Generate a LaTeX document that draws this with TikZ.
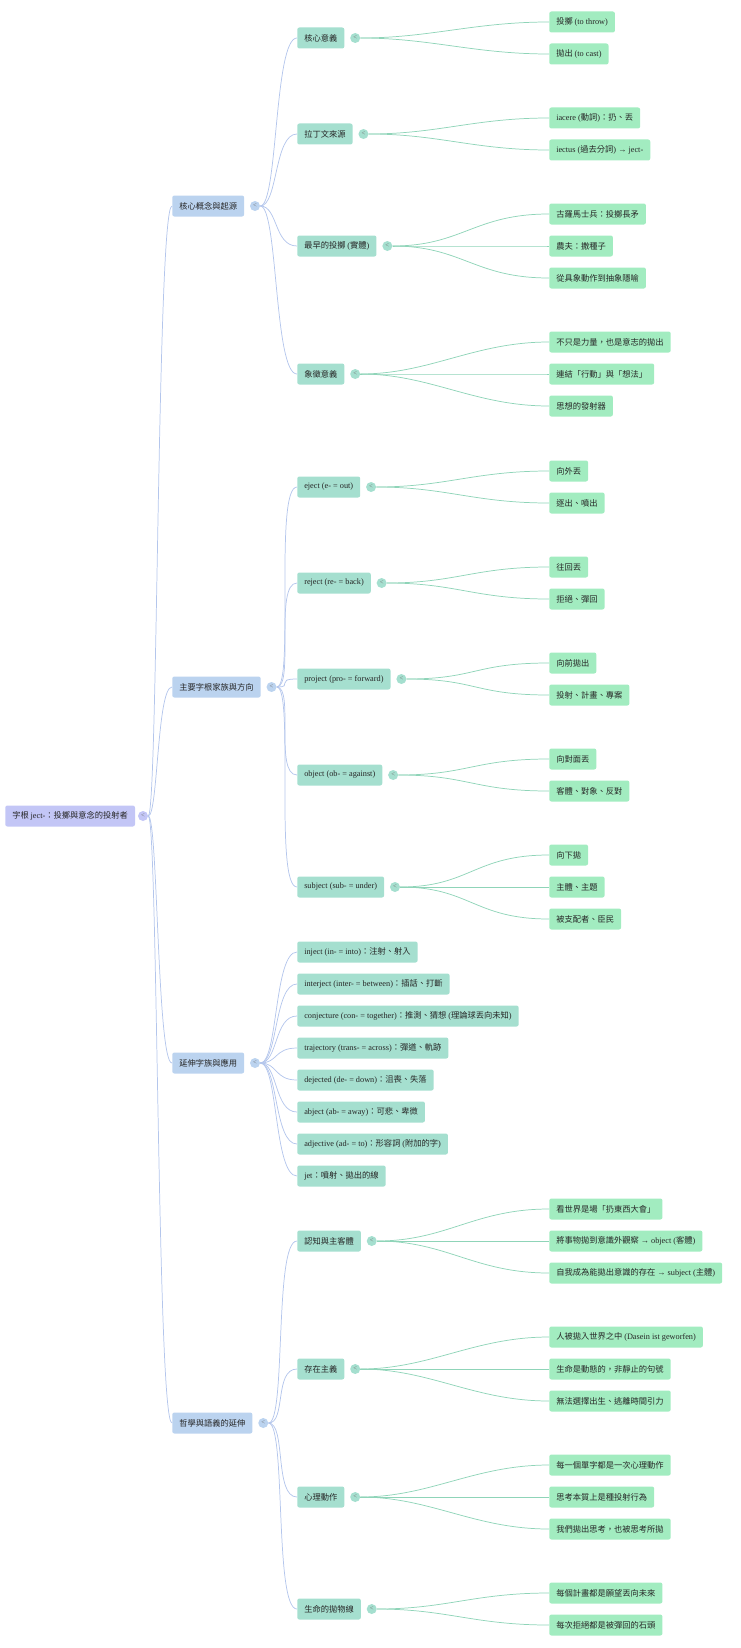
\documentclass[tikz,border=0pt]{standalone}
\usepackage{fontspec}
\usetikzlibrary{positioning}
\setmainfont{Liberation Serif}
\newfontfamily\cjkf{Noto Sans CJK TC}
\newfontfamily\latf{Liberation Serif}
\newcommand\E[1]{{\latf #1}}
\newcommand\mixfont{\cjkf\fontsize{6.2}{7}\selectfont}
\definecolor{rootc}{HTML}{C3C6F6}
\definecolor{lonec}{HTML}{BBD3EF}
\definecolor{ltwoc}{HTML}{A5DFCF}
\definecolor{leafc}{HTML}{A2ECC0}
\definecolor{blueln}{HTML}{B4C6EC}
\definecolor{greenln}{HTML}{8FD4B8}
\tikzset{
 box/.style={anchor=west,rounded corners=1.6pt,minimum height=15.75pt,inner xsep=5.25pt,inner ysep=0pt,font=\mixfont,text=black!85},
 root/.style={box,fill=rootc},
 lone/.style={box,fill=lonec},
 ltwo/.style={box,fill=ltwoc},
 leaf/.style={box,fill=leafc},
 dot/.style={circle,inner sep=0pt,minimum size=7.5pt,font=\latf\fontsize{5}{5}\selectfont,text=black!55},
 bl/.style={draw=blueln,line width=0.55pt},
 gl/.style={draw=greenln,line width=0.55pt},
}
\newcommand\con[4]{\draw[#1] (#2) .. controls +(#4,0) and +(-#4,0) .. (#3.west);}
\begin{document}
\begin{tikzpicture}[x=0.75pt,y=-0.75pt]
\useasboundingbox (0,0) rectangle (740,1648);
% root
\node[root] (r) at (5,816) {字根 \E{ject-}：投擲與意念的投射者};
\node[dot,fill=rootc] (r-c) at (143,816) {<};
% level 1
\node[lone] (a) at (172,206) {核心概念與起源};
\node[lone] (b) at (172,687) {主要字根家族與方向};
\node[lone] (c) at (172,1063) {延伸字族與應用};
\node[lone] (d) at (172,1423) {哲學與語義的延伸};
\foreach \n in {a,b,c,d}{\node[dot,fill=lonec,right=4pt of \n] (\n-c) {<};}
\foreach \n in {a,b,c,d}{\con{bl}{r-c}{\n}{15}}
% group a
\node[ltwo] (a1) at (297,38) {核心意義};
\node[ltwo] (a2) at (297,134) {拉丁文來源};
\node[ltwo] (a3) at (297,246) {最早的投擲 \E{(}實體\E{)}};
\node[ltwo] (a4) at (297,374) {象徵意義};
% group b
\node[ltwo] (b1) at (297,487) {\E{eject (e- = out)}};
\node[ltwo] (b2) at (297,583) {\E{reject (re- = back)}};
\node[ltwo] (b3) at (297,679) {\E{project (pro- = forward)}};
\node[ltwo] (b4) at (297,775) {\E{object (ob- = against)}};
\node[ltwo] (b5) at (297,887) {\E{subject (sub- = under)}};
% group c
\node[ltwo] (c1) at (297,952) {\E{inject (in- = into)}：注射、射入};
\node[ltwo] (c2) at (297,984) {\E{interject (inter- = between)}：插話、打斷};
\node[ltwo] (c3) at (297,1016) {\E{conjecture (con- = together)}：推測、猜想 \E{(}理論球丟向未知\E{)}};
\node[ltwo] (c4) at (297,1048) {\E{trajectory (trans- = across)}：彈道、軌跡};
\node[ltwo] (c5) at (297,1080) {\E{dejected (de- = down)}：沮喪、失落};
\node[ltwo] (c6) at (297,1112) {\E{abject (ab- = away)}：可悲、卑微};
\node[ltwo] (c7) at (297,1144) {\E{adjective (ad- = to)}：形容詞 \E{(}附加的字\E{)}};
\node[ltwo] (c8) at (297,1176) {\E{jet}：噴射、拋出的線};
% group d
\node[ltwo] (d1) at (297,1241) {認知與主客體};
\node[ltwo] (d2) at (297,1369) {存在主義};
\node[ltwo] (d3) at (297,1497) {心理動作};
\node[ltwo] (d4) at (297,1609) {生命的拋物線};
\foreach \n in {a1,a2,a3,a4,b1,b2,b3,b4,b5,d1,d2,d3,d4}{\node[dot,fill=ltwoc,right=4pt of \n] (\n-c) {<};}
\foreach \n in {a1,a2,a3,a4}{\con{bl}{a-c}{\n}{23}}
\foreach \n in {b1,b2,b3,b4,b5}{\con{bl}{b-c}{\n}{23}}
\foreach \n in {c1,c2,c3,c4,c5,c6,c7,c8}{\con{bl}{c-c}{\n}{23}}
\foreach \n in {d1,d2,d3,d4}{\con{bl}{d-c}{\n}{23}}
% leaves
\node[leaf] (a11) at (549,22) {投擲 \E{(to throw)}};
\node[leaf] (a12) at (549,54) {拋出 \E{(to cast)}};
\node[leaf] (a21) at (549,118) {\E{iacere (}動詞\E{)}：扔、丟};
\node[leaf] (a22) at (549,150) {\E{iectus (}過去分詞\E{) → ject-}};
\node[leaf] (a31) at (549,214) {古羅馬士兵：投擲長矛};
\node[leaf] (a32) at (549,246) {農夫：撒種子};
\node[leaf] (a33) at (549,278) {從具象動作到抽象隱喻};
\node[leaf] (a41) at (549,342) {不只是力量，也是意志的拋出};
\node[leaf] (a42) at (549,374) {連結「行動」與「想法」};
\node[leaf] (a43) at (549,406) {思想的發射器};
\node[leaf] (b11) at (549,471) {向外丟};
\node[leaf] (b12) at (549,503) {逐出、噴出};
\node[leaf] (b21) at (549,567) {往回丟};
\node[leaf] (b22) at (549,599) {拒絕、彈回};
\node[leaf] (b31) at (549,663) {向前拋出};
\node[leaf] (b32) at (549,695) {投射、計畫、專案};
\node[leaf] (b41) at (549,759) {向對面丟};
\node[leaf] (b42) at (549,791) {客體、對象、反對};
\node[leaf] (b51) at (549,855) {向下拋};
\node[leaf] (b52) at (549,887) {主體、主題};
\node[leaf] (b53) at (549,919) {被支配者、臣民};
\node[leaf] (d11) at (549,1209) {看世界是場「扔東西大會」};
\node[leaf] (d12) at (549,1241) {將事物拋到意識外觀察 \E{→ object (}客體\E{)}};
\node[leaf] (d13) at (549,1273) {自我成為能拋出意識的存在 \E{→ subject (}主體\E{)}};
\node[leaf] (d21) at (549,1337) {人被拋入世界之中 \E{(Dasein ist geworfen)}};
\node[leaf] (d22) at (549,1369) {生命是動態的，非靜止的句號};
\node[leaf] (d23) at (549,1401) {無法選擇出生、逃離時間引力};
\node[leaf] (d31) at (549,1465) {每一個單字都是一次心理動作};
\node[leaf] (d32) at (549,1497) {思考本質上是種投射行為};
\node[leaf] (d33) at (549,1529) {我們拋出思考，也被思考所拋};
\node[leaf] (d41) at (549,1593) {每個計畫都是願望丟向未來};
\node[leaf] (d42) at (549,1625) {每次拒絕都是被彈回的石頭};
\foreach \p/\k in {a1/a11,a1/a12,a2/a21,a2/a22,a3/a31,a3/a32,a3/a33,a4/a41,a4/a42,a4/a43,b1/b11,b1/b12,b2/b21,b2/b22,b3/b31,b3/b32,b4/b41,b4/b42,b5/b51,b5/b52,b5/b53,d1/d11,d1/d12,d1/d13,d2/d21,d2/d22,d2/d23,d3/d31,d3/d32,d3/d33,d4/d41,d4/d42}{\con{gl}{\p-c}{\k}{75}}
\end{tikzpicture}
\end{document}
